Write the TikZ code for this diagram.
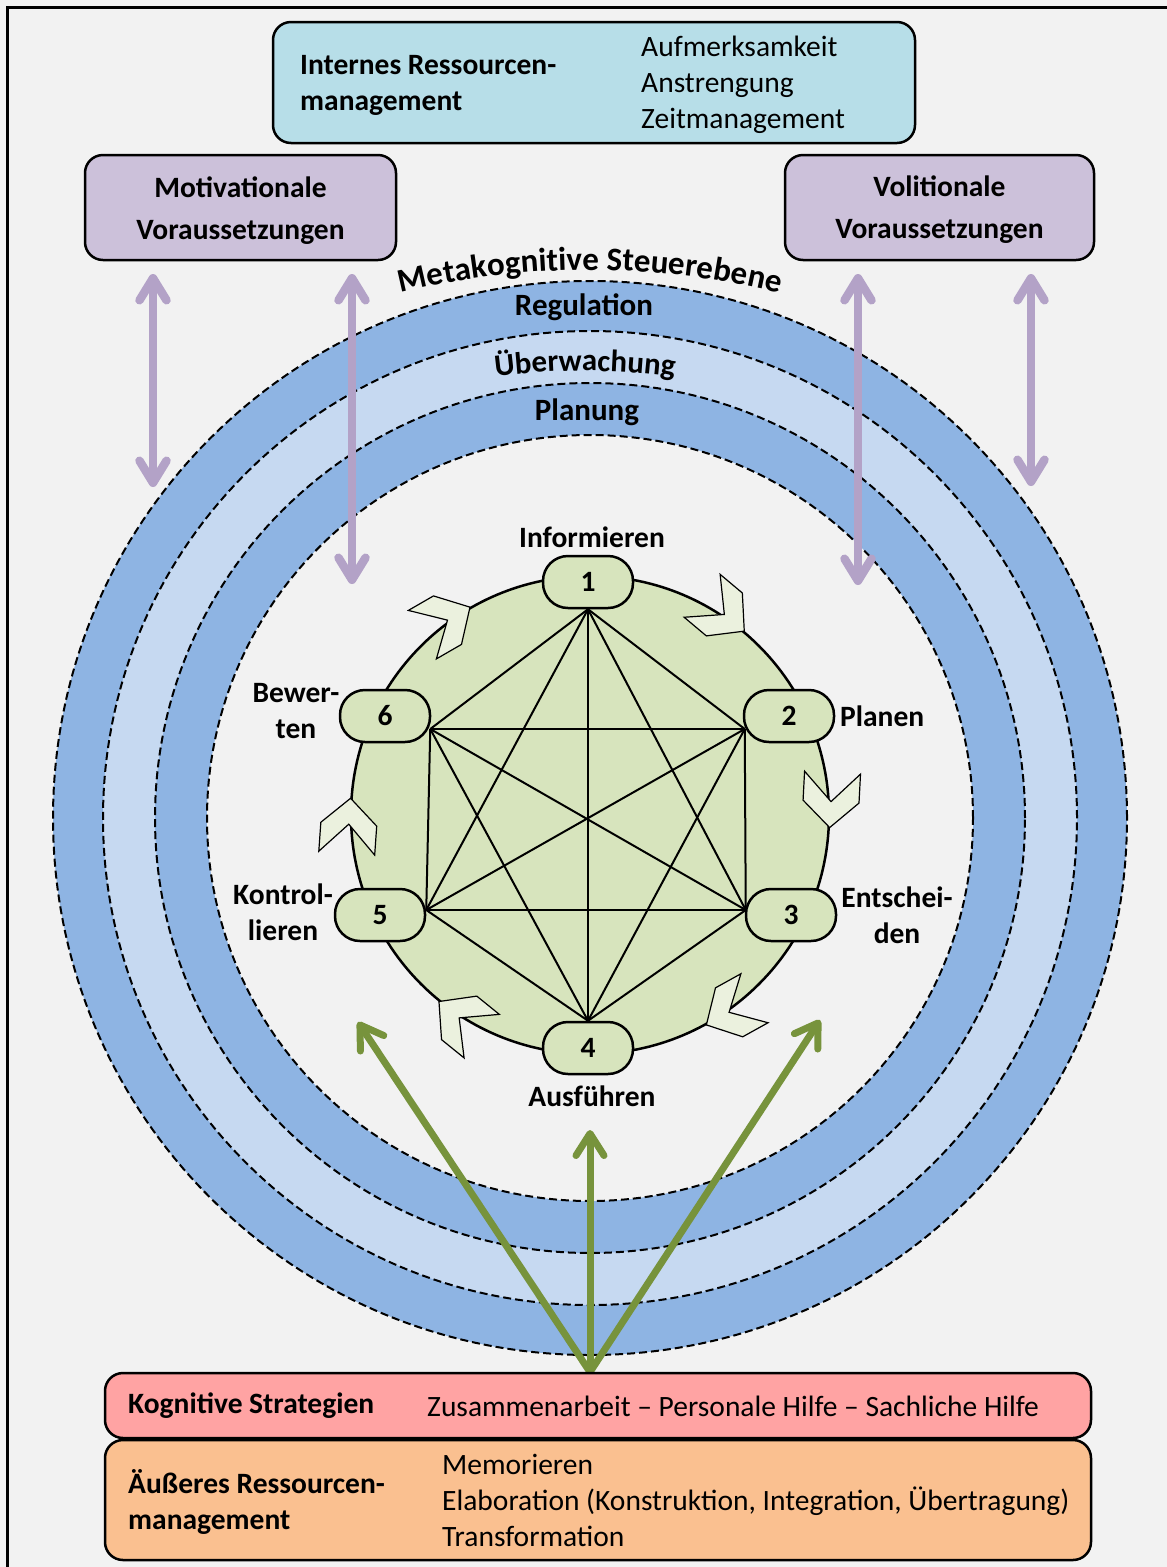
\documentclass[tikz,border=0pt]{standalone}
\usepackage{fontspec}
\setmainfont{Carlito}
\usetikzlibrary{arrows.meta,decorations.text}

\definecolor{bg}{HTML}{F2F2F2}
\definecolor{irmblau}{HTML}{B7DEE8}
\definecolor{vorlila}{HTML}{CCC1DA}
\definecolor{ringdunkel}{HTML}{8EB4E3}
\definecolor{ringhell}{HTML}{C6D9F1}
\definecolor{hexgruen}{HTML}{D7E4BD}
\definecolor{chevgruen}{HTML}{EBF1DE}
\definecolor{pfeillila}{HTML}{B3A2C7}
\definecolor{pfeilgruen}{HTML}{77933C}
\definecolor{kogrot}{HTML}{FFA3A3}
\definecolor{aerorange}{HTML}{FAC090}

\newcommand{\gross}{\fontsize{29.5}{36}\selectfont}
\newcommand{\ringfont}{\fontsize{31}{36}\selectfont\bfseries}

\pgfdeclarelayer{background}
\pgfsetlayers{background,main}

\tikzset{
	box/.style={draw, line width=2.5pt, rounded corners=18pt, inner sep=0pt},
	txt/.style={font=\gross, align=left, anchor=west, inner sep=0pt},
	lbl/.style={font=\gross\bfseries, align=center, inner sep=0pt},
	phase/.style={rectangle, rounded corners=25pt, draw, line width=2.5pt, fill=hexgruen, minimum width=90pt, minimum height=52pt, font=\gross\bfseries},
	ring/.style={draw, line width=2pt, dash pattern=on 8pt off 4pt},
	parrow/.style={draw=pfeillila, line width=8.5pt, {Straight Barb[round,length=22pt,width=27pt]}-{Straight Barb[round,length=22pt,width=27pt]}},
	garrow/.style={draw=pfeilgruen, line width=7pt, -{Straight Barb[round,length=22pt,width=28pt]}},
	chev/.pic={\draw[fill=chevgruen, line width=1.2pt] (0,0) -- (-26,28) -- (-55,28) -- (-26,0) -- (-55,-28) -- (-26,-28) -- cycle;}
}

\begin{document}
\begin{tikzpicture}[x=1pt,y=1pt]

	\useasboundingbox (0,0) rectangle (1167,-1567);

	\coordinate (mk) at (590,-818);
	\coordinate (hx) at (590,-815);

	\node[phase] (n1) at (588,-582) {1};
	\node[phase] (n2) at (789,-716) {2};
	\node[phase] (n3) at (791,-915) {3};
	\node[phase] (n4) at (588,-1048) {4};
	\node[phase] (n5) at (380,-915) {5};
	\node[phase] (n6) at (385,-716) {6};

	\coordinate (p1) at (n1.south);
	\coordinate (p2) at ([yshift=-13pt,xshift=2pt]n2.west);
	\coordinate (p3) at ([yshift=5pt,xshift=1pt]n3.west);
	\coordinate (p4) at (n4.north);
	\coordinate (p5) at ([yshift=5pt]n5.east);
	\coordinate (p6) at ([yshift=-13pt,xshift=-1pt]n6.east);

	\begin{pgfonlayer}{background}
	\fill[bg] (0,0) rectangle (1167,-1567);
	\draw[line width=3pt] (7,-7) rectangle (1200,-1600);

	\draw[ring, fill=ringdunkel] (mk) circle[radius=537];
	\draw[ring, fill=ringhell] (mk) circle[radius=487];
	\draw[ring, fill=ringdunkel] (mk) circle[radius=435];
	\draw[ring, fill=bg] (mk) circle[radius=383];

	\draw[line width=2.5pt, fill=hexgruen] (hx) circle[radius=239];
	\foreach \a/\b in {1/2,1/3,1/4,1/5,1/6,2/3,2/4,2/5,2/6,3/4,3/5,3/6,4/5,4/6,5/6}
		\draw[line width=2pt] (p\a) -- (p\b);
	\end{pgfonlayer}

	\path[decorate, decoration={text along path, text align=center, text={|\fontsize{33}{36}\selectfont\bfseries|Metakognitive Steuerebene}}]
		([shift={(120:790)}]590,-1060) arc[start angle=120, end angle=60, radius=790];
	\node[font=\ringfont, inner sep=0pt, anchor=base] (reg) at (584,-315) {Regulation};
	\path[decorate, decoration={text along path, text align=center, text={|\ringfont|Überwachung}}]
		([shift={(100:700)}]585,-1071) arc[start angle=100, end angle=80, radius=700];
	\node[font=\ringfont, inner sep=0pt, anchor=base] (plan) at (587,-420) {Planung};

	\foreach \w in {50,-3,-61,231,176,120}
		\path (hx) ++(\w:240) pic[rotate=\w-90] {chev};

	\node[lbl] (l1) at (592,-537) {Informieren};
	\node[lbl, anchor=west] (l2) at (840,-716) {Planen};
	\node[lbl] (l3) at (897,-915) {Entschei-\\den};
	\node[lbl] (l4) at (592,-1096) {Ausführen};
	\node[lbl] (l5) at (283,-912) {Kontrol-\\lieren};
	\node[lbl] (l6) at (296,-711) {Bewer-\\ten};

	\coordinate (mo1) at (153,-274);
	\coordinate (mu1) at (153,-487);
	\coordinate (mo2) at (352,-274);
	\coordinate (mu2) at (352,-584);
	\coordinate (vo1) at (858,-274);
	\coordinate (vu1) at (858,-585);
	\coordinate (vo2) at (1031,-274);
	\coordinate (vu2) at (1031,-486);
	\draw[parrow] (mo1) -- (mu1);
	\draw[parrow] (mo2) -- (mu2);
	\draw[parrow] (vo1) -- (vu1);
	\draw[parrow] (vo2) -- (vu2);

	\coordinate (gq) at (590,-1372);
	\coordinate (gz1) at (358,-1022);
	\coordinate (gz2) at (590,-1130);
	\coordinate (gz3) at (820,-1020);
	\draw[garrow] (gq) -- (gz1);
	\draw[garrow] (gq) -- (gz2);
	\draw[garrow] (gq) -- (gz3);

	\node[box, fill=irmblau, minimum width=642pt, minimum height=121pt] (irm) at (594,-82.5) {};
	\node[txt, font=\gross\bfseries] (irm_t) at (300,-85) {Internes Ressourcen-\\management};
	\node[txt] (irm_l) at (641,-85) {Aufmerksamkeit\\Anstrengung\\Zeitmanagement};

	\node[box, fill=vorlila, minimum width=311pt, minimum height=105pt] (mot) at (240.5,-207.5) {};
	\node[lbl] (mot_t) at (240.5,-210.5) {Motivationale\\[6pt]Voraussetzungen};
	\node[box, fill=vorlila, minimum width=309pt, minimum height=105pt] (vol) at (939.5,-207.5) {};
	\node[lbl] (vol_t) at (939.5,-209.5) {Volitionale\\[6pt]Voraussetzungen};

	\node[box, fill=kogrot, minimum width=986pt, minimum height=65pt] (kog) at (598,-1405.5) {};
	\node[txt, font=\gross\bfseries] (kog_t) at (128,-1406) {Kognitive Strategien};
	\node[txt] (kog_l) at (427,-1406) {Zusammenarbeit -- Personale Hilfe -- Sachliche Hilfe};

	\node[box, fill=aerorange, minimum width=986pt, minimum height=120pt] (aer) at (598,-1500) {};
	\node[txt, font=\gross\bfseries] (aer_t) at (128,-1502) {Äußeres Ressourcen-\\management};
	\node[txt] (aer_l) at (442,-1500) {Memorieren\\Elaboration (Konstruktion, Integration, Übertragung)\\Transformation};

\end{tikzpicture}
\end{document}
